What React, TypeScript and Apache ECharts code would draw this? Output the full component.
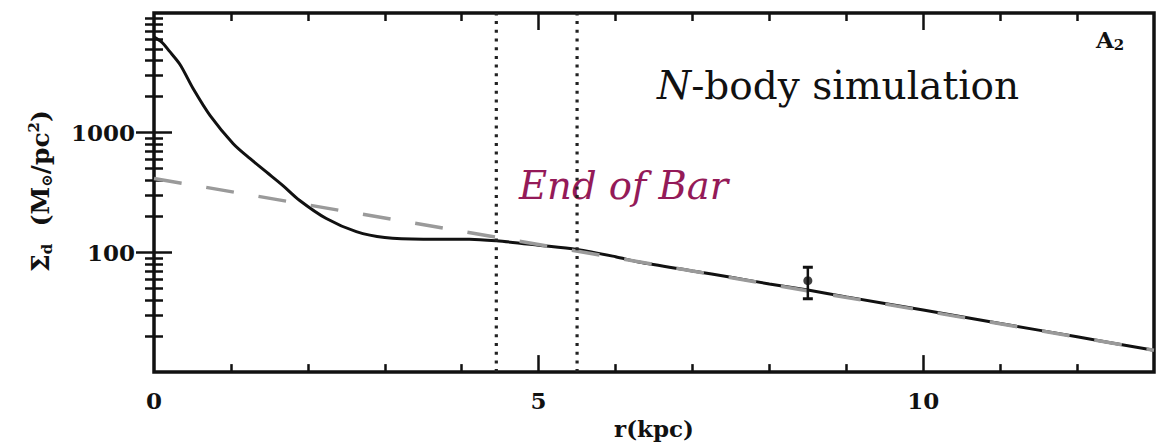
import React, { useEffect, useRef } from "react";
import * as echarts from "echarts";

// Surface density profile of the N-body disc (r in kpc, Σ in M⊙/pc²)
const profileR = [0, 0.1, 0.2, 0.34, 0.51, 0.73, 1.03, 1.25, 1.46, 1.68, 1.89, 2.24, 2.63, 3.0, 3.5, 4.1, 4.45, 5.0, 5.5, 6.0, 6.3, 7.0, 7.5, 8.0, 8.5, 9.0, 10.0, 11.0, 12.0, 13.0];
const profileSigma = [6300, 5700, 4800, 3700, 2330, 1390, 810, 607, 470, 360, 273, 192, 149, 133, 129, 129, 125, 115, 106, 92, 83, 70, 62, 54.5, 48.5, 42.5, 33, 25.5, 19.7, 15.2];

// Exponential disc fit (straight on the log axis), end points
const fitR = [0, 13];
const fitSigma = [415, 15.2];

// Bar end markers
const barEndR = [4.45, 5.5];

// Solar-neighbourhood measurement with error bar
const obsR = [8.5];
const obsSigma = [58];
const obsLow = [41];
const obsHigh = [75];

// Axis ticks and labels
const xRange = [0, 13];
const yRange = [10, 10000];
const xLabelValues = [0, 5, 10];
const yLabelValues = [100, 1000];
const xMajorTicks = [5, 10];
const xMinorTicks = [1, 2, 3, 4, 6, 7, 8, 9, 11, 12];
const yMajorTicks = [100, 1000];
const yMinorTicks = [20, 30, 40, 50, 60, 70, 80, 90, 200, 300, 400, 500, 600, 700, 800, 900, 2000, 3000, 4000, 5000, 6000, 7000, 8000, 9000];

const INK = "#111";
const TICK_FONT = "'DejaVu Serif', serif";

// Plot frame geometry (pixels)
const GRID_LEFT = 154;
const GRID_TOP = 13;
const GRID_W = 1004;
const GRID_H = 360;
const PX_PER_KPC = GRID_W / (xRange[1] - xRange[0]);

const tickStyle = { color: INK, width: 2.5 };

// Extra tick-only axes sharing the main scales (frame ticks on all four sides)
function xTickAxis(position: string, values: number[], len: number) {
  return {
    type: "value",
    position,
    min: xRange[0],
    max: xRange[1],
    axisLine: { show: false },
    splitLine: { show: false },
    axisLabel: { show: false },
    axisTick: { show: true, inside: true, length: len, customValues: values, lineStyle: tickStyle },
  };
}

function yTickAxis(position: string, values: number[], len: number) {
  return {
    type: "log",
    logBase: 10,
    position,
    min: yRange[0],
    max: yRange[1],
    axisLine: { show: false },
    splitLine: { show: false },
    axisLabel: { show: false },
    axisTick: { show: true, inside: true, length: len, customValues: values, lineStyle: tickStyle },
  };
}

// Short two-point line segment in data coordinates
function segment(a: number[], b: number[], width = 2.5, z = 7) {
  return {
    type: "line",
    data: [a, b],
    showSymbol: false,
    silent: true,
    lineStyle: { color: INK, width, cap: "butt" },
    z,
  };
}

// Error bar: whisker, caps and the measured point
function errorBars() {
  const half = 5 / PX_PER_KPC;
  const parts: any[] = [];
  obsR.forEach((r, i) => {
    parts.push(segment([r, obsLow[i]], [r, obsHigh[i]], 2.5));
    parts.push(segment([r - half, obsLow[i]], [r + half, obsLow[i]], 3));
    parts.push(segment([r - half, obsHigh[i]], [r + half, obsHigh[i]], 3));
  });
  parts.push({
    name: "observed",
    type: "scatter",
    data: obsR.map((r, i) => [r, obsSigma[i]]),
    symbol: "circle",
    symbolSize: 9,
    itemStyle: { color: INK },
    silent: true,
    z: 8,
  });
  return parts;
}

export default function App() {
  const ref = useRef<HTMLDivElement>(null);

  useEffect(() => {
    if (!ref.current) return;
    const chart = echarts.init(ref.current, null, { renderer: "svg" });

    const option: any = {
      animation: false,
      backgroundColor: "#fff",
      grid: {
        show: true,
        left: GRID_LEFT,
        top: GRID_TOP,
        width: GRID_W,
        height: GRID_H,
        borderColor: INK,
        borderWidth: 3.5,
        backgroundColor: "transparent",
      },
      xAxis: [
        {
          type: "value",
          position: "bottom",
          min: xRange[0],
          max: xRange[1],
          interval: 5,
          axisLine: { show: false },
          axisTick: { show: true, inside: true, length: 8, customValues: xMinorTicks, lineStyle: tickStyle },
          splitLine: { show: false },
          name: "r(kpc)",
          nameLocation: "middle",
          nameGap: 42,
          nameTextStyle: { fontFamily: TICK_FONT, fontWeight: "bold", fontSize: 23, color: INK },
          axisLabel: {
            margin: 17,
            fontFamily: TICK_FONT,
            fontWeight: "bold",
            fontSize: 23,
            color: INK,
            formatter: (v: number) => (xLabelValues.includes(v) ? String(v) : ""),
          },
        },
        xTickAxis("bottom", xMajorTicks, 17),
        xTickAxis("top", xMinorTicks, 8),
        xTickAxis("top", xMajorTicks, 17),
      ],
      yAxis: [
        {
          type: "log",
          logBase: 10,
          position: "left",
          min: yRange[0],
          max: yRange[1],
          axisLine: { show: false },
          axisTick: { show: true, inside: true, length: 9, customValues: yMinorTicks, lineStyle: tickStyle },
          splitLine: { show: false },
          axisLabel: {
            margin: 19,
            fontFamily: TICK_FONT,
            fontWeight: "bold",
            fontSize: 23,
            color: INK,
            formatter: (v: number) => (yLabelValues.includes(Math.round(v)) ? String(Math.round(v)) : ""),
          },
        },
        yTickAxis("left", yMajorTicks, 18),
        yTickAxis("right", yMinorTicks, 9),
        yTickAxis("right", yMajorTicks, 18),
      ],
      graphic: [
        {
          type: "text",
          x: 40,
          y: 191,
          rotation: Math.PI / 2,
          style: {
            text: "Σ{sub|d}  (M{sub|⊙}/pc{sup|2})",
            fontFamily: TICK_FONT,
            fontWeight: "bold",
            fontSize: 25,
            fill: INK,
            align: "center",
            verticalAlign: "middle",
            rich: {
              sub: { fontFamily: TICK_FONT, fontWeight: "bold", fontSize: 15, fill: INK, padding: [13, 0, 0, 0] },
              sup: { fontFamily: TICK_FONT, fontWeight: "bold", fontSize: 15, fill: INK, padding: [0, 0, 12, 0] },
            },
          },
        },
        {
          type: "text",
          left: 657,
          top: 66,
          style: {
            text: "{i|N}-body simulation",
            fontFamily: TICK_FONT,
            fontSize: 39,
            fill: INK,
            rich: { i: { fontFamily: TICK_FONT, fontStyle: "italic", fontSize: 39, fill: INK } },
          },
        },
        {
          type: "text",
          left: 519,
          top: 166,
          style: {
            text: "End of Bar",
            fontFamily: TICK_FONT,
            fontStyle: "italic",
            fontSize: 38.5,
            fill: "#941a58",
          },
        },
        {
          type: "text",
          left: 1096,
          top: 28,
          style: {
            text: "A{sub|2}",
            fontFamily: TICK_FONT,
            fontWeight: "bold",
            fontSize: 23,
            fill: INK,
            rich: { sub: { fontFamily: TICK_FONT, fontWeight: "bold", fontSize: 15, fill: INK, padding: [10, 0, 0, 0] } },
          },
        },
      ],
      series: [
        {
          name: "fit",
          type: "line",
          data: fitR.map((r, i) => [r, fitSigma[i]]),
          showSymbol: false,
          lineStyle: { color: "#9a9a9a", width: 3.5, type: [28, 25] },
          z: 3,
        },
        {
          name: "profile",
          type: "line",
          data: profileR.map((r, i) => [r, profileSigma[i]]),
          showSymbol: false,
          smooth: 0.3,
          lineStyle: { color: INK, width: 3 },
          z: 2,
        },
        ...barEndR.map((r) => ({
          name: "bar end",
          type: "line",
          data: [
            [r, yRange[0]],
            [r, yRange[1]],
          ],
          showSymbol: false,
          lineStyle: { color: "#222", width: 3.2, type: [3, 5.7] },
          z: 4,
        })),
        ...errorBars(),
      ],
    };

    chart.setOption(option);
    return () => chart.dispose();
  }, []);

  return (
    <div
      ref={ref}
      style={{ position: "absolute", left: 0, top: 0, width: 1157, height: 445, background: "#fff" }}
    />
  );
}
